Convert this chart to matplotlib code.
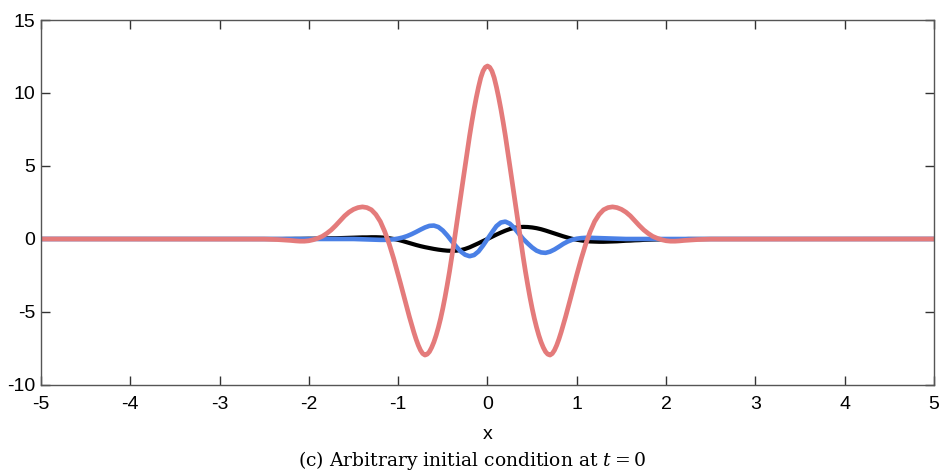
import numpy as np
import matplotlib
matplotlib.use("Agg")
import matplotlib.pyplot as plt

# sample positions (x) and values
x_lo, x_hi = -5.0, 5.0
x_grid = np.round(np.linspace(-2.5, 2.5, 101), 2)
# red curve is steeper: finer sampling in the middle
red_x = np.round(np.concatenate([np.linspace(-2.5, -1.05, 30),
                                 np.linspace(-1.0, 1.0, 81),
                                 np.linspace(1.05, 2.5, 30)]), 3)

black_vals = [
    0.0, 0.0, 0.0, 0.0, 0.0, 0.005, 0.005, 0.01, 0.01, 0.015,          # -2.50 .. -2.05
    0.02, 0.02, 0.03, 0.03, 0.04, 0.05, 0.05, 0.06, 0.07, 0.08,         # -2.00 .. -1.55
    0.09, 0.10, 0.11, 0.11, 0.12, 0.12, 0.11, 0.09, 0.05, 0.0,          # -1.50 .. -1.05
    -0.06, -0.14, -0.23, -0.32, -0.41, -0.49, -0.56, -0.62, -0.68, -0.73,  # -1.00 .. -0.55
    -0.77, -0.80, -0.81, -0.80, -0.76, -0.68, -0.57, -0.43, -0.29, -0.14,  # -0.50 .. -0.05
    0.0,                                                                  # 0
    0.15, 0.30, 0.44, 0.57, 0.68, 0.76, 0.81, 0.83, 0.82, 0.79,         # 0.05 .. 0.50
    0.74, 0.67, 0.58, 0.48, 0.38, 0.28, 0.18, 0.09, 0.01, -0.05,        # 0.55 .. 1.00
    -0.10, -0.14, -0.17, -0.18, -0.19, -0.19, -0.18, -0.17, -0.16, -0.14,  # 1.05 .. 1.50
    -0.12, -0.11, -0.09, -0.08, -0.06, -0.05, -0.04, -0.03, -0.03, -0.02,  # 1.55 .. 2.00
    -0.02, -0.01, -0.01, -0.01, 0.0, 0.0, 0.0, 0.0, 0.0, 0.0,           # 2.05 .. 2.50
]

blue_vals = [
    0.0, 0.0, 0.0, 0.0, 0.0, 0.0, 0.0, 0.0, 0.0, 0.0,                   # -2.50 .. -2.05
    0.0, 0.0, 0.0, 0.0, 0.0, 0.0, 0.0, 0.0, 0.0, 0.0,                   # -2.00 .. -1.55
    0.0, -0.01, -0.02, -0.03, -0.04, -0.05, -0.06, -0.06, -0.05, -0.02,  # -1.50 .. -1.05
    0.03, 0.10, 0.20, 0.33, 0.48, 0.64, 0.79, 0.90, 0.92, 0.82,         # -1.00 .. -0.55
    0.58, 0.24, -0.15, -0.52, -0.85, -1.08, -1.18, -1.10, -0.85, -0.45,  # -0.50 .. -0.05
    0.0,                                                                  # 0
    0.45, 0.88, 1.13, 1.19, 1.05, 0.75, 0.37, 0.0, -0.30, -0.58,        # 0.05 .. 0.50
    -0.80, -0.92, -0.95, -0.87, -0.72, -0.53, -0.33, -0.17, -0.05, 0.02,  # 0.55 .. 1.00
    0.06, 0.08, 0.08, 0.07, 0.06, 0.05, 0.04, 0.03, 0.02, 0.01,         # 1.05 .. 1.50
    0.0, 0.0, 0.0, 0.0, 0.0, 0.0, 0.0, 0.0, 0.0, 0.0,                   # 1.55 .. 2.00
    0.0, 0.0, 0.0, 0.0, 0.0, 0.0, 0.0, 0.0, 0.0, 0.0,                   # 2.05 .. 2.50
]

red_vals = [
    # -2.50 .. -1.05 (step 0.05)
    -0.01, -0.02, -0.03, -0.04, -0.06, -0.08, -0.10, -0.13, -0.15, -0.15,
    -0.12, -0.05, 0.05, 0.18, 0.38, 0.62, 0.92, 1.25, 1.58, 1.84,
    2.03, 2.15, 2.20, 2.15, 2.00, 1.68, 1.20, 0.50, -0.35, -1.35,
    # -1.00 .. 1.00 (step 0.025)
    -2.45, -3.02, -3.60, -4.18, -4.76, -5.32, -5.86, -6.38, -6.86, -7.28,
    -7.62, -7.85, -7.95, -7.89, -7.72, -7.43, -7.06, -6.60, -6.06, -5.45,
    -4.75, -3.97, -3.12, -2.22, -1.25, -0.24, 0.80, 1.85, 2.90, 3.97,
    5.02, 6.07, 7.08, 8.02, 8.90, 9.70, 10.42, 11.05, 11.50, 11.76,
    11.85,
    11.76, 11.50, 11.05, 10.42, 9.70, 8.90, 8.02, 7.08, 6.07, 5.02,
    3.97, 2.90, 1.85, 0.80, -0.24, -1.25, -2.22, -3.12, -3.97, -4.75,
    -5.45, -6.06, -6.60, -7.06, -7.43, -7.72, -7.89, -7.95, -7.85, -7.62,
    -7.28, -6.86, -6.38, -5.86, -5.32, -4.76, -4.18, -3.60, -3.02, -2.45,
    # 1.05 .. 2.50 (step 0.05)
    -1.35, -0.35, 0.50, 1.20, 1.68, 2.00, 2.15, 2.20, 2.15, 2.03,
    1.84, 1.58, 1.25, 0.92, 0.62, 0.38, 0.18, 0.05, -0.05, -0.12,
    -0.15, -0.15, -0.13, -0.10, -0.08, -0.06, -0.04, -0.03, -0.02, -0.01,
]

x_ticks = [-5, -4, -3, -2, -1, 0, 1, 2, 3, 4, 5]
y_ticks = [-10, -5, 0, 5, 10, 15]
caption = "(c) Arbitrary initial condition at $t = 0$"


def padded(xg, vals):
    # flat zero tails out to the axis limits
    xs = np.concatenate([[x_lo], xg, [x_hi]])
    ys = np.concatenate([[0.0], vals, [0.0]])
    return xs, ys


def main():
    plt.rcParams['font.family'] = ['Liberation Sans', 'DejaVu Sans']
    plt.rcParams['mathtext.fontset'] = 'dejavuserif'

    fig = plt.figure(figsize=(9.44, 4.74), dpi=100)
    ax = fig.add_axes([0.0434, 0.1878, 0.9460, 0.7700])

    for xg, vals, col, lw in [(x_grid, black_vals, 'black', 3.0),
                              (x_grid, blue_vals, '#4a80e6', 3.3),
                              (red_x, red_vals, '#e47b7b', 3.4)]:
        xs, ys = padded(xg, vals)
        ax.plot(xs, ys, '-', color=col, lw=lw, solid_capstyle='butt',
                solid_joinstyle='round')

    ax.set_xlim(-5, 5)
    ax.set_ylim(-10, 15)
    ax.set_xticks(x_ticks)
    ax.set_yticks(y_ticks)
    ax.set_xticklabels([str(t) for t in x_ticks])
    ax.set_yticklabels([str(t) for t in y_ticks])

    for sp in ax.spines.values():
        sp.set_color('#555555')
        sp.set_linewidth(1.0)
    ax.tick_params(direction='in', length=6.5, width=1.0, color='#333333',
                   top=True, right=True, labelsize=14)
    ax.tick_params(axis='x', pad=8)
    ax.tick_params(axis='y', pad=4)

    ax.set_xlabel('x', fontsize=14, labelpad=9)

    fig.text(0.5, 0.005, caption, ha='center', va='bottom', fontsize=13.5,
             family='DejaVu Serif')

    fig.savefig('out.png', dpi=100)


if (__name__ == "__main__"):
    main()
